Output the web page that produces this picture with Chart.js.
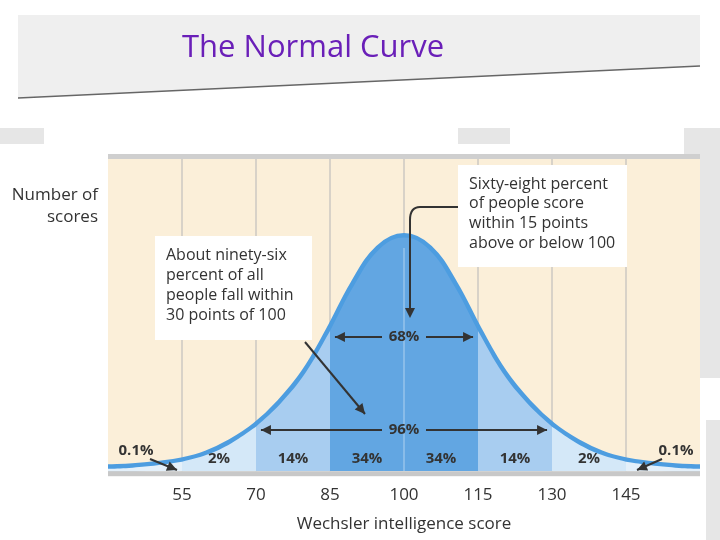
<!DOCTYPE html>
<html><head><meta charset="utf-8">
<script src="https://cdn.jsdelivr.net/npm/chart.js@4/dist/chart.umd.min.js"></script>
<style>html,body{margin:0;padding:0;background:#fff}#wrap{width:720px;height:540px;position:relative}</style>
</head><body><div id="wrap"><canvas id="c" width="720" height="540"></canvas></div>
<script>
const scores = [40,45,50,55,60,65,70,75,80,85,90,95,100,105,110,115,120,125,130,135,140,145,150,155,160];
const counts = [1,1.5,2.5,4,7,12,19,29,42,60,80,95,100,95,80,60,42,29,19,12,7,4,2.5,1.5,1];
const tickScores = [55,70,85,100,115,130,145];
const bandLabels = ['2%','14%','34%','34%','14%','2%'];
const bands = [[40,55,'#e4f0fa'],[55,70,'#d4e8f8'],[70,85,'#a8cdf0'],[85,115,'#62a6e2'],[115,130,'#a8cdf0'],[130,145,'#d4e8f8'],[145,160,'#e4f0fa']];

function pts(a,b){return scores.map((s,i)=>({x:s,y:(s>=a&&s<=b)?counts[i]:null}));}
const datasets = bands.map(b=>({data:pts(b[0],b[1]),fill:'origin',backgroundColor:b[2],borderWidth:0,pointRadius:0,tension:0.4,spanGaps:false}));
datasets.push({data:scores.map((s,i)=>({x:s,y:counts[i]})),fill:false,borderColor:'#4d9de0',borderWidth:9,pointRadius:0,tension:0.4});

function arrowHead(ctx,x,y,ang){ctx.save();ctx.translate(x,y);ctx.rotate(ang);ctx.beginPath();ctx.moveTo(0,0);ctx.lineTo(-10,-5);ctx.lineTo(-10,5);ctx.closePath();ctx.fill();ctx.restore();}
function arrow(ctx,x1,y1,x2,y2){ctx.beginPath();ctx.moveTo(x1,y1);ctx.lineTo(x2,y2);ctx.stroke();arrowHead(ctx,x2,y2,Math.atan2(y2-y1,x2-x1));}

const deco = {
 id:'deco',
 beforeDraw(chart){
  const ctx=chart.ctx, a=chart.chartArea, xs=chart.scales.x;
  ctx.save();
  ctx.fillStyle='#efefef';ctx.beginPath();ctx.moveTo(18,15);ctx.lineTo(700,15);ctx.lineTo(700,66);ctx.lineTo(18,98);ctx.closePath();ctx.fill();
  ctx.strokeStyle='#666';ctx.lineWidth=1.5;ctx.beginPath();ctx.moveTo(18,98);ctx.lineTo(700,66);ctx.stroke();
  ctx.fillStyle='#6a1fb8';ctx.font='31px "Open Sans", Arial';ctx.textBaseline='middle';ctx.fillText('The Normal Curve',182,48);
  ctx.fillStyle='#e6e6e6';ctx.fillRect(0,128,44,16);ctx.fillRect(458,128,52,16);ctx.fillRect(684,128,36,250);ctx.fillRect(706,420,14,120);
  ctx.fillStyle='#fbefd9';ctx.fillRect(a.left,a.top,a.right-a.left,a.bottom-a.top);
  ctx.strokeStyle='#d8d2c8';ctx.lineWidth=2;
  tickScores.forEach(t=>{const x=xs.getPixelForValue(t);ctx.beginPath();ctx.moveTo(x,a.top);ctx.lineTo(x,a.bottom);ctx.stroke();});
  ctx.fillStyle='#cfcfcf';ctx.fillRect(a.left,a.top-4,a.right-a.left,5);
  ctx.restore();
 },
 afterDatasetsDraw(chart){
  const ctx=chart.ctx, a=chart.chartArea, xs=chart.scales.x;
  const px=v=>xs.getPixelForValue(v);
  ctx.save();
  ctx.fillStyle='#c8c8c8';ctx.fillRect(a.left,a.bottom,a.right-a.left,5);
  ctx.strokeStyle='rgba(255,255,255,0.5)';ctx.lineWidth=1;
  ctx.beginPath();ctx.moveTo(px(100),a.bottom);ctx.lineTo(px(100),a.top+90);ctx.stroke();
  ctx.fillStyle='#333';ctx.strokeStyle='#333';ctx.lineWidth=2;
  ctx.font='bold 15px "Open Sans", Arial';ctx.textAlign='center';ctx.textBaseline='middle';
  const mids=[62.5,77.5,92.5,107.5,122.5,137.5];
  mids.forEach((m,i)=>ctx.fillText(bandLabels[i],px(m),a.bottom-12));
  ctx.fillText('0.1%',136,451);ctx.fillText('0.1%',676,451);
  arrow(ctx,150,459,177,470);arrow(ctx,662,459,637,470);
  ctx.fillText('68%',px(100),337);ctx.fillText('96%',px(100),430);
  arrow(ctx,px(100)-22,337,px(86),337);arrow(ctx,px(100)+22,337,px(114),337);
  arrow(ctx,px(100)-22,430,px(71),430);arrow(ctx,px(100)+22,430,px(129),430);
  ctx.fillStyle='#fff';ctx.fillRect(155,236,157,104);ctx.fillRect(458,165,169,102);
  ctx.fillStyle='#333';ctx.font='16px "Open Sans", Arial';ctx.textAlign='left';
  ['About ninety-six','percent of all','people fall within','30 points of 100'].forEach((t,i)=>ctx.fillText(t,166,255+i*20));
  ['Sixty-eight percent','of people score','within 15 points','above or below 100'].forEach((t,i)=>ctx.fillText(t,469,184+i*19.7));
  arrow(ctx,305,342,365,414);
  ctx.beginPath();ctx.moveTo(458,207);ctx.lineTo(420,207);ctx.quadraticCurveTo(410,207,410,220);ctx.lineTo(410,308);ctx.stroke();
  arrowHead(ctx,410,318,Math.PI/2);
  ctx.restore();
 }
};

new Chart(document.getElementById('c'),{
 type:'line',
 data:{datasets},
 options:{
  responsive:false,animation:false,
  layout:{padding:{left:108,right:20,top:158,bottom:6}},
  plugins:{legend:{display:false},tooltip:{enabled:false}},
  scales:{
   x:{type:'linear',min:40,max:160,afterBuildTicks(s){s.ticks=tickScores.map(v=>({value:v}));},
      grid:{display:false},border:{display:false},
      ticks:{color:'#333',font:{size:17,family:'"Open Sans", Arial'},padding:6,autoSkip:false},
      title:{display:true,text:'Wechsler intelligence score',color:'#333',font:{size:17,family:'"Open Sans", Arial'},padding:{top:2,bottom:0}}},
   y:{min:0,max:134,display:false}
  }
 },
 plugins:[deco,{id:'ytitle',afterDraw(chart){const ctx=chart.ctx;ctx.save();ctx.fillStyle='#333';ctx.font='17px "Open Sans", Arial';ctx.textAlign='right';ctx.textBaseline='middle';ctx.fillText('Number of',98,195);ctx.fillText('scores',98,217);ctx.restore();}}]
});
</script></body></html>
